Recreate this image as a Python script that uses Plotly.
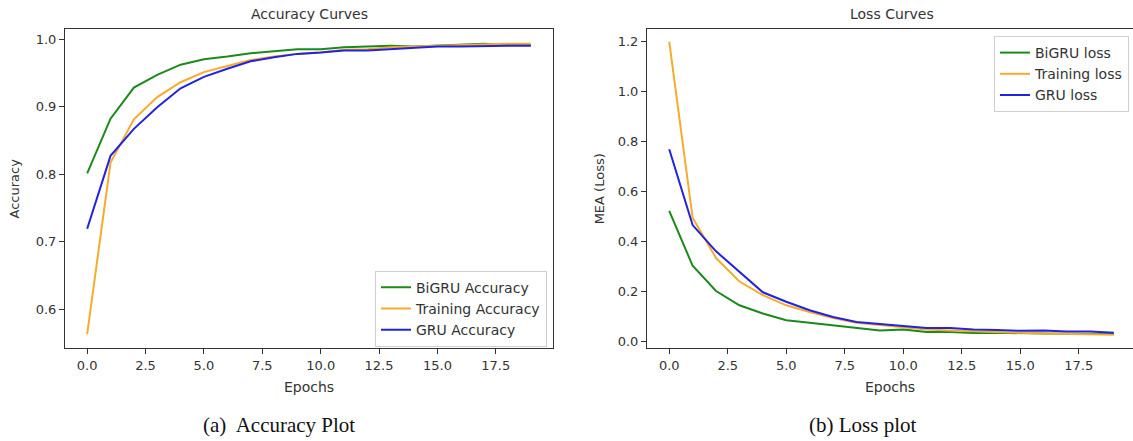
import plotly.graph_objects as go

epochs = list(range(20))

bigru_acc = [0.801, 0.882, 0.928, 0.947, 0.962, 0.970, 0.974, 0.979, 0.982, 0.985,
             0.985, 0.988, 0.989, 0.990, 0.989, 0.990, 0.991, 0.993, 0.991, 0.991]
train_acc = [0.563, 0.817, 0.881, 0.914, 0.936, 0.951, 0.960, 0.969, 0.974, 0.978,
             0.980, 0.984, 0.985, 0.988, 0.989, 0.990, 0.991, 0.993, 0.993, 0.993]
gru_acc = [0.719, 0.827, 0.867, 0.899, 0.927, 0.944, 0.956, 0.967, 0.973, 0.978,
           0.980, 0.983, 0.983, 0.985, 0.987, 0.989, 0.989, 0.990, 0.990, 0.990]

bigru_loss = [0.523, 0.303, 0.202, 0.145, 0.112, 0.085, 0.075, 0.065, 0.057, 0.044,
              0.048, 0.038, 0.038, 0.034, 0.035, 0.035, 0.032, 0.031, 0.031, 0.030]
train_loss = [1.200, 0.495, 0.334, 0.240, 0.186, 0.145, 0.118, 0.094, 0.075, 0.065,
              0.058, 0.048, 0.044, 0.040, 0.038, 0.035, 0.032, 0.030, 0.028, 0.027]
gru_loss = [0.769, 0.466, 0.361, 0.280, 0.197, 0.159, 0.125, 0.098, 0.078, 0.070,
            0.062, 0.054, 0.054, 0.048, 0.046, 0.043, 0.044, 0.040, 0.040, 0.035]

x_ticks = [0, 2.5, 5, 7.5, 10, 12.5, 15, 17.5]
acc_ticks = [0.6, 0.7, 0.8, 0.9, 1.0]
loss_ticks = [0.0, 0.2, 0.4, 0.6, 0.8, 1.0, 1.2]

W, H = 1133, 441
GREEN, ORANGE, BLUE = "#1a8a1a", "#f5ac2e", "#2222e0"
TXT = "#333333"
FONT = "DejaVu Sans"

fig = go.Figure()
for name, ys, c in [("BiGRU Accuracy", bigru_acc, GREEN),
                    ("Training Accuracy", train_acc, ORANGE),
                    ("GRU Accuracy", gru_acc, BLUE)]:
    fig.add_trace(go.Scatter(x=epochs, y=ys, mode="lines", name=name,
                             line=dict(color=c, width=2), xaxis="x", yaxis="y",
                             legend="legend"))
for name, ys, c in [("BiGRU loss", bigru_loss, GREEN),
                    ("Training loss", train_loss, ORANGE),
                    ("GRU loss", gru_loss, BLUE)]:
    fig.add_trace(go.Scatter(x=epochs, y=ys, mode="lines", name=name,
                             line=dict(color=c, width=2), xaxis="x2", yaxis="y2",
                             legend="legend2"))

ax_common = dict(showline=True, mirror=True, linecolor=TXT, linewidth=1,
                 ticks="outside", ticklen=5, tickcolor=TXT, showgrid=False,
                 zeroline=False, tickfont=dict(family=FONT, size=13, color=TXT),
                 tickformat=".1f")

ydom = [1 - 348.3 / H, 1 - 29.3 / H]
fig.update_layout(
    width=W, height=H, margin=dict(l=0, r=0, t=0, b=0),
    paper_bgcolor="white", plot_bgcolor="white", showlegend=True,
    xaxis=dict(domain=[65 / W, 553 / W], range=[-0.95, 19.95], tickvals=x_ticks,
               title=dict(text="Epochs", font=dict(family=FONT, size=14, color=TXT), standoff=10),
               anchor="y", **ax_common),
    yaxis=dict(domain=ydom, range=[0.542, 1.0144], tickvals=acc_ticks,
               title=dict(text="Accuracy", font=dict(family=FONT, size=13, color=TXT), standoff=13),
               anchor="x", **ax_common),
    xaxis2=dict(domain=[647 / W, 1.0], range=[-0.95, -0.95 + (W - 647) / 23.4], tickvals=x_ticks,
                title=dict(text="Epochs", font=dict(family=FONT, size=14, color=TXT), standoff=10),
                anchor="y2", **ax_common),
    yaxis2=dict(domain=ydom, range=[-0.027, 1.249], tickvals=loss_ticks,
                title=dict(text="MEA (Loss)", font=dict(family=FONT, size=13, color=TXT), standoff=10),
                anchor="x2", **ax_common),
    legend=dict(x=547 / W, y=1 - 270.7 / H, xanchor="right", yanchor="top",
                bgcolor="white", bordercolor="#d0d0d0", borderwidth=1,
                tracegroupgap=0, itemwidth=30,
                font=dict(family=FONT, size=14, color=TXT)),
    legend2=dict(x=1129 / W, y=1 - 36 / H, xanchor="right", yanchor="top",
                 bgcolor="white", bordercolor="#d0d0d0", borderwidth=1,
                 tracegroupgap=0, itemwidth=30,
                 font=dict(family=FONT, size=14, color=TXT)),
    annotations=[
        dict(text="Accuracy Curves", x=309 / W, y=1 - 14 / H, xref="paper", yref="paper",
             xanchor="center", yanchor="middle",
             showarrow=False, font=dict(family=FONT, size=14, color=TXT)),
        dict(text="Loss Curves", x=892 / W, y=1 - 14 / H, xref="paper", yref="paper",
             xanchor="center", yanchor="middle",
             showarrow=False, font=dict(family=FONT, size=14, color=TXT)),
        dict(text="(a)  Accuracy Plot", x=279 / W, y=1 - 425 / H, xref="paper", yref="paper",
             xanchor="center", yanchor="middle",
             showarrow=False, font=dict(family="Liberation Serif", size=21, color="#111111")),
        dict(text="(b) Loss plot", x=862 / W, y=1 - 425 / H, xref="paper", yref="paper",
             xanchor="center", yanchor="middle",
             showarrow=False, font=dict(family="Liberation Serif", size=21, color="#111111")),
    ],
)

fig.write_html("out.html", config={"displayModeBar": False},
               post_script="document.body.style.margin='0';document.body.style.overflow='hidden';")
